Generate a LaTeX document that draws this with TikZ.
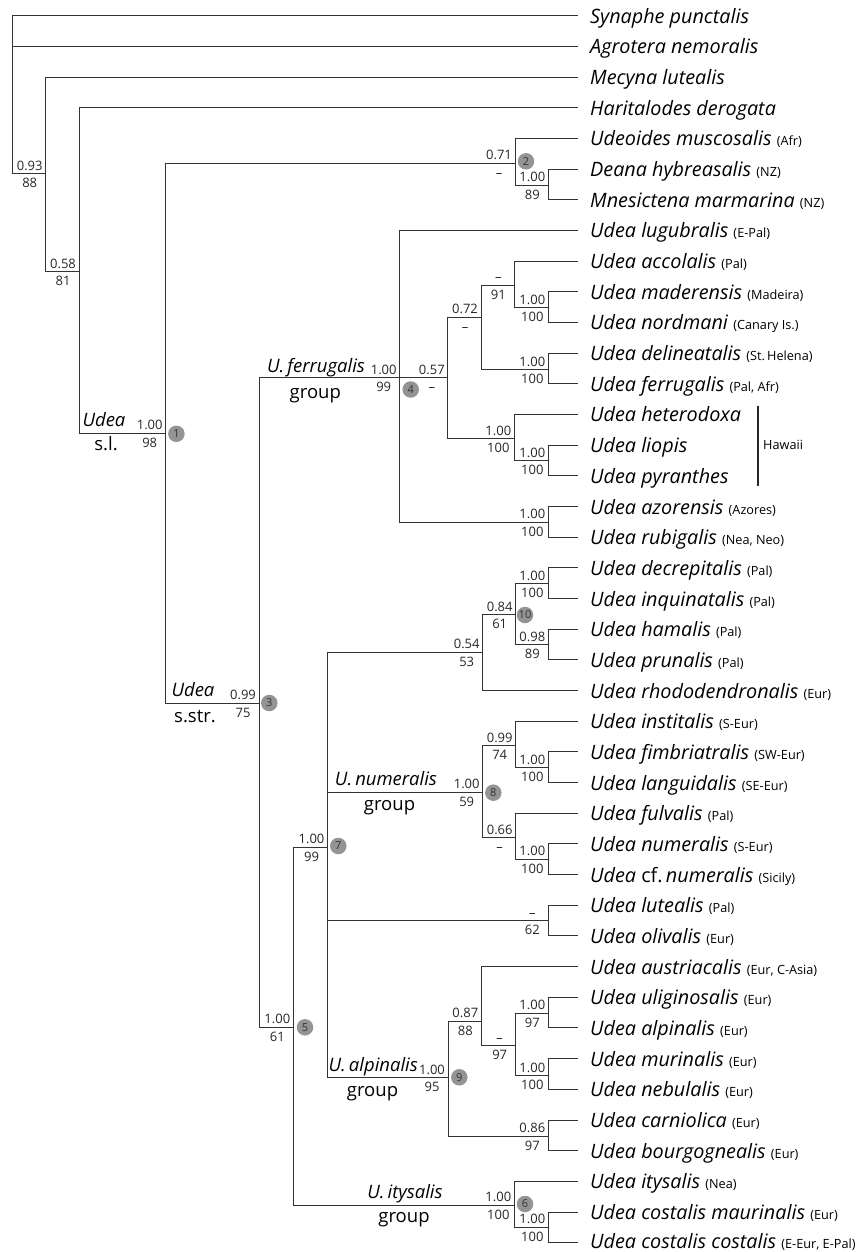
\documentclass[tikz,border=0pt]{standalone}
\usepackage{fontspec}
\setmainfont{Open Sans}
\usetikzlibrary{calc}
\newcommand\rg[1]{{\fontsize{12.7}{15}\selectfont(#1)}}
\newcommand\suplab[3]{%
  \node[pp] (#1pp) at ($(#1)+(-16,-3.5)$) {#2};
  \node[pp] (#1bs) at ($(#1)+(-16,14)$) {#3};}
\begin{document}
\begin{tikzpicture}[x=1pt,y=-1pt,
  br/.style={draw=black!80, line width=1pt},
  leaf/.style={anchor=base west, inner sep=0pt, font=\fontsize{19.8}{23}\selectfont},
  pp/.style={anchor=base, inner sep=0pt, font=\fontsize{13}{15}\selectfont, text=black!85},
  circ/.style={circle, fill=black!42, inner sep=0pt, minimum size=16.5pt, font=\fontsize{11}{11}\selectfont, text=black!80},
  grp/.style={anchor=base, inner sep=0pt, font=\fontsize{18.5}{22}\selectfont},
  grpi/.style={grp, font=\fontsize{18.5}{22}\selectfont\itshape}]
\useasboundingbox (0,0) rectangle (861,1252);
% leaf ends
\foreach \i in {1,...,41} \coordinate (l\i) at (578.3, {15.7+30.675*(\i-1)});
% internal nodes
\coordinate (root) at (12.7,95);
\coordinate (N093) at (45.7,174);
\coordinate (N058) at (79,271.7);
\coordinate (N1) at (165.7,433.3);
\coordinate (N2) at (515,163.3);
\coordinate (Ndeana) at (548.3,185.5);
\coordinate (N3) at (259,703);
\coordinate (N4) at (399.7,377.7);
\coordinate (N057) at (447.8,377.7);
\coordinate (N072) at (481,317.3);
\coordinate (Nacc) at (514.3,285);
\coordinate (Nmad) at (548.3,307.5);
\coordinate (Ndel) at (548.3,369.5);
\coordinate (Nhaw) at (514.3,438.5);
\coordinate (Nliop) at (548.3,460.8);
\coordinate (Nazor) at (548.3,522);
\coordinate (N5) at (293.3,1027);
\coordinate (N7) at (327.5,847.3);
\coordinate (N054) at (482.7,652);
\coordinate (N10) at (515.7,614.5);
\coordinate (Ndec) at (548.3,583.5);
\coordinate (Nham) at (548.3,644.8);
\coordinate (N8) at (482.7,792.3);
\coordinate (N099) at (515.7,745.5);
\coordinate (Nfimb) at (548.3,767.5);
\coordinate (N066) at (515.7,837.5);
\coordinate (Nnum) at (548.3,859.3);
\coordinate (Nlut) at (548.3,920.7);
\coordinate (N9) at (448,1077.7);
\coordinate (N087) at (481.3,1021);
\coordinate (Nmin) at (515.7,1045.5);
\coordinate (Nulig) at (548.3,1013);
\coordinate (Nmur) at (548.3,1075.5);
\coordinate (Ncarn) at (548.3,1136);
\coordinate (Nitys) at (514.3,1205.3);
\coordinate (Ncost) at (548.3,1227);
% branches: outer children as elbows (vertical + horizontal)
\foreach \p/\c in {root/l1,root/N093,N093/l3,N093/N058,N058/l4,N058/N1,
  N1/N2,N1/N3,N2/l5,N2/Ndeana,Ndeana/l6,Ndeana/l7,N3/N4,N3/N5,
  N4/l8,N4/Nazor,N057/N072,N057/Nhaw,N072/Nacc,N072/Ndel,
  Nacc/l9,Nacc/Nmad,Nmad/l10,Nmad/l11,Ndel/l12,Ndel/l13,Nhaw/l14,Nhaw/Nliop,
  Nliop/l15,Nliop/l16,Nazor/l17,Nazor/l18,N5/N7,N5/Nitys,
  N7/N054,N7/N9,N054/N10,N054/l23,N10/Ndec,N10/Nham,
  Ndec/l19,Ndec/l20,Nham/l21,Nham/l22,N8/N099,N8/N066,N099/l24,N099/Nfimb,
  Nfimb/l25,Nfimb/l26,N066/l27,N066/Nnum,Nnum/l28,Nnum/l29,Nlut/l30,Nlut/l31,
  N9/N087,N9/Ncarn,N087/l32,N087/Nmin,Nmin/Nulig,Nmin/Nmur,Nulig/l33,Nulig/l34,
  Nmur/l35,Nmur/l36,Ncarn/l37,Ncarn/l38,Nitys/l39,Nitys/Ncost,Ncost/l40,Ncost/l41}
  \draw[br] (\p) |- (\c);
% branches: middle children, horizontal only
\foreach \p/\c in {root/l2,N4/N057,N7/N8,N7/Nlut}
  \draw[br] (\p |- \c) -- (\c);
% leaf labels
\node[leaf] (t1) at ($(l1)+(11.7,7.5)$) {\textit{Synaphe punctalis}};
\node[leaf] (t2) at ($(l2)+(11.7,7.5)$) {\textit{Agrotera nemoralis}};
\node[leaf] (t3) at ($(l3)+(11.7,7.5)$) {\textit{Mecyna lutealis}};
\node[leaf] (t4) at ($(l4)+(11.7,7.5)$) {\textit{Haritalodes derogata}};
\node[leaf] (t5) at ($(l5)+(11.7,7.5)$) {\textit{Udeoides muscosalis} \rg{Afr}};
\node[leaf] (t6) at ($(l6)+(11.7,7.5)$) {\textit{Deana hybreasalis} \rg{NZ}};
\node[leaf] (t7) at ($(l7)+(11.7,7.5)$) {\textit{Mnesictena marmarina} \rg{NZ}};
\node[leaf] (t8) at ($(l8)+(11.7,7.5)$) {\textit{Udea lugubralis} \rg{E-Pal}};
\node[leaf] (t9) at ($(l9)+(11.7,7.5)$) {\textit{Udea accolalis} \rg{Pal}};
\node[leaf] (t10) at ($(l10)+(11.7,7.5)$) {\textit{Udea maderensis} \rg{Madeira}};
\node[leaf] (t11) at ($(l11)+(11.7,7.5)$) {\textit{Udea nordmani} \rg{Canary Is.}};
\node[leaf] (t12) at ($(l12)+(11.7,7.5)$) {\textit{Udea delineatalis} \rg{St.\,Helena}};
\node[leaf] (t13) at ($(l13)+(11.7,7.5)$) {\textit{Udea ferrugalis} \rg{Pal, Afr}};
\node[leaf] (t14) at ($(l14)+(11.7,7.5)$) {\textit{Udea heterodoxa}};
\node[leaf] (t15) at ($(l15)+(11.7,7.5)$) {\textit{Udea liopis}};
\node[leaf] (t16) at ($(l16)+(11.7,7.5)$) {\textit{Udea pyranthes}};
\node[leaf] (t17) at ($(l17)+(11.7,7.5)$) {\textit{Udea azorensis} \rg{Azores}};
\node[leaf] (t18) at ($(l18)+(11.7,7.5)$) {\textit{Udea rubigalis} \rg{Nea, Neo}};
\node[leaf] (t19) at ($(l19)+(11.7,7.5)$) {\textit{Udea decrepitalis} \rg{Pal}};
\node[leaf] (t20) at ($(l20)+(11.7,7.5)$) {\textit{Udea inquinatalis} \rg{Pal}};
\node[leaf] (t21) at ($(l21)+(11.7,7.5)$) {\textit{Udea hamalis} \rg{Pal}};
\node[leaf] (t22) at ($(l22)+(11.7,7.5)$) {\textit{Udea prunalis} \rg{Pal}};
\node[leaf] (t23) at ($(l23)+(11.7,7.5)$) {\textit{Udea rhododendronalis} \rg{Eur}};
\node[leaf] (t24) at ($(l24)+(11.7,7.5)$) {\textit{Udea institalis} \rg{S-Eur}};
\node[leaf] (t25) at ($(l25)+(11.7,7.5)$) {\textit{Udea fimbriatralis} \rg{SW-Eur}};
\node[leaf] (t26) at ($(l26)+(11.7,7.5)$) {\textit{Udea languidalis} \rg{SE-Eur}};
\node[leaf] (t27) at ($(l27)+(11.7,7.5)$) {\textit{Udea fulvalis} \rg{Pal}};
\node[leaf] (t28) at ($(l28)+(11.7,7.5)$) {\textit{Udea numeralis} \rg{S-Eur}};
\node[leaf] (t29) at ($(l29)+(11.7,7.5)$) {\textit{Udea} cf.\,\textit{numeralis} \rg{Sicily}};
\node[leaf] (t30) at ($(l30)+(11.7,7.5)$) {\textit{Udea lutealis} \rg{Pal}};
\node[leaf] (t31) at ($(l31)+(11.7,7.5)$) {\textit{Udea olivalis} \rg{Eur}};
\node[leaf] (t32) at ($(l32)+(11.7,7.5)$) {\textit{Udea austriacalis} \rg{Eur, C-Asia}};
\node[leaf] (t33) at ($(l33)+(11.7,7.5)$) {\textit{Udea uliginosalis} \rg{Eur}};
\node[leaf] (t34) at ($(l34)+(11.7,7.5)$) {\textit{Udea alpinalis} \rg{Eur}};
\node[leaf] (t35) at ($(l35)+(11.7,7.5)$) {\textit{Udea murinalis} \rg{Eur}};
\node[leaf] (t36) at ($(l36)+(11.7,7.5)$) {\textit{Udea nebulalis} \rg{Eur}};
\node[leaf] (t37) at ($(l37)+(11.7,7.5)$) {\textit{Udea carniolica} \rg{Eur}};
\node[leaf] (t38) at ($(l38)+(11.7,7.5)$) {\textit{Udea bourgognealis} \rg{Eur}};
\node[leaf] (t39) at ($(l39)+(11.7,7.5)$) {\textit{Udea itysalis} \rg{Nea}};
\node[leaf] (t40) at ($(l40)+(11.7,7.5)$) {\textit{Udea costalis maurinalis} \rg{Eur}};
\node[leaf] (t41) at ($(l41)+(11.7,6)$) {\smash{\textit{Udea costalis costalis} \rg{E-Eur, E-Pal}}};
% support values
\suplab{N093}{0.93}{88}
\suplab{N058}{0.58}{81}
\suplab{N1}{1.00}{98}
\suplab{N2}{0.71}{–}
\suplab{Ndeana}{1.00}{89}
\suplab{N4}{1.00}{99}
\suplab{N057}{0.57}{–}
\suplab{N072}{0.72}{–}
\suplab{Nacc}{–}{91}
\suplab{Nmad}{1.00}{100}
\suplab{Ndel}{1.00}{100}
\suplab{Nhaw}{1.00}{100}
\suplab{Nliop}{1.00}{100}
\suplab{Nazor}{1.00}{100}
\suplab{N3}{0.99}{75}
\suplab{N5}{1.00}{61}
\suplab{N7}{1.00}{99}
\suplab{N054}{0.54}{53}
\suplab{N10}{0.84}{61}
\suplab{Ndec}{1.00}{100}
\suplab{Nham}{0.98}{89}
\suplab{N8}{1.00}{59}
\suplab{N099}{0.99}{74}
\suplab{Nfimb}{1.00}{100}
\suplab{N066}{0.66}{–}
\suplab{Nnum}{1.00}{100}
\suplab{Nlut}{–}{62}
\suplab{N9}{1.00}{95}
\suplab{N087}{0.87}{88}
\suplab{Nmin}{–}{97}
\suplab{Nulig}{1.00}{97}
\suplab{Nmur}{1.00}{100}
\suplab{Ncarn}{0.86}{97}
\suplab{Nitys}{1.00}{100}
\suplab{Ncost}{1.00}{100}
% numbered circles
\node[circ] (c1) at ($(N1)+(10.7,0.5)$) {1};
\node[circ] (c2) at ($(N2)+(11,-2)$) {2};
\node[circ] (c3) at ($(N3)+(10.3,0)$) {3};
\node[circ] (c4) at ($(N4)+(11,11.8)$) {4};
\node[circ] (c5) at ($(N5)+(11.7,0.3)$) {5};
\node[circ] (c6) at ($(Nitys)+(10.7,-1.3)$) {6};
\node[circ] (c7) at ($(N7)+(10.8,-1.3)$) {7};
\node[circ] (c8) at ($(N8)+(10.6,0.4)$) {8};
\node[circ] (c9) at ($(N9)+(11.3,-0.4)$) {9};
\node[circ] (c10) at ($(N10)+(9.3,0.5)$) {10};
% group labels
\node[grpi] (g1a) at (104,426.7) {Udea};
\node[grp] (g1b) at (106,450.7) {s.l.};
\node[grpi] (g3a) at (193,696.7) {Udea};
\node[grp] (g3b) at (195,722.3) {s.str.};
\node[grpi] (g4a) at (316,372.7) {U.\,ferrugalis};
\node[grp] (g4b) at (315.3,398) {group};
\node[grpi] (g8a) at (386,785.5) {U.\,numeralis};
\node[grp] (g8b) at (389.5,810) {group};
\node[grpi] (g9a) at (373.3,1071.5) {U.\,alpinalis};
\node[grp] (g9b) at (372.5,1096.5) {group};
\node[grpi] (g6a) at (405,1198.5) {U.\,itysalis};
\node[grp] (g6b) at (404,1222.7) {group};
% Hawaii bracket
\coordinate (hw1) at (757.7,406);
\coordinate (hw2) at (757.7,486);
\draw[black!85, line width=2pt] (hw1) -- (hw2);
\node[anchor=west, inner sep=0pt, font=\fontsize{12.7}{15}\selectfont] (hawaii) at (763,445) {Hawaii};
\end{tikzpicture}
\end{document}
